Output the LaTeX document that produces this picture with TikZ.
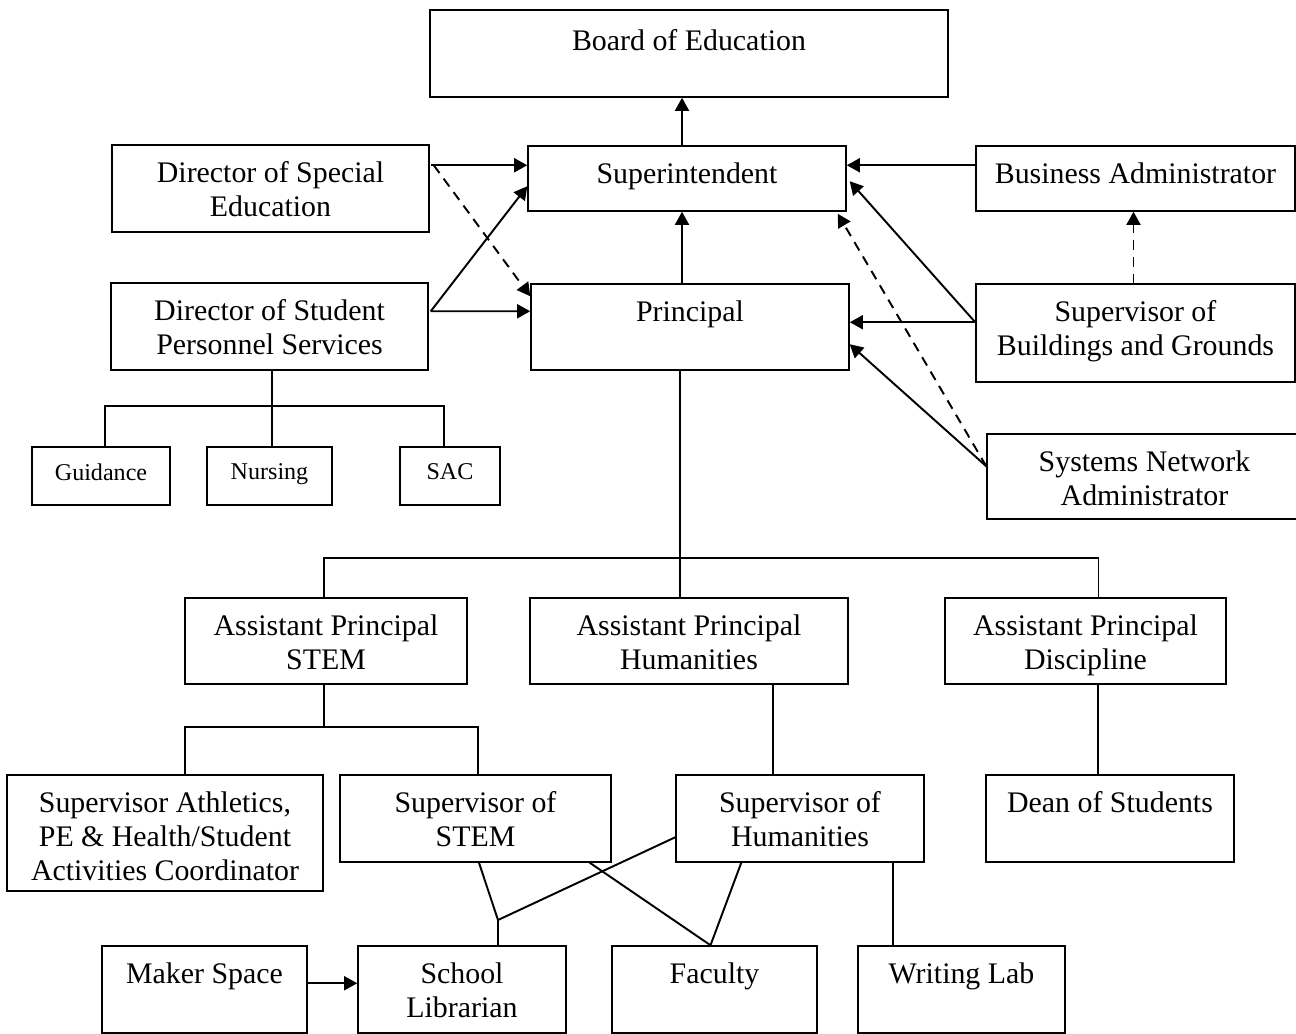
\documentclass[tikz,border=0pt]{standalone}
\usepackage{fontspec}
\setmainfont{Liberation Serif}
\usetikzlibrary{arrows.meta, calc, fit}

\tikzset{
  unit/.style={draw, line width=0.85pt, inner sep=0pt},
  txt/.style={anchor=north, align=center, inner sep=0pt, yshift=-9.6pt, font=\fontsize{17}{19.3}\selectfont},
  small/.style={anchor=north, align=center, inner sep=0pt, yshift=-9.8pt, font=\fontsize{13.7}{16}\selectfont},
  link/.style={line width=1.1pt},
  arr/.style={line width=1.1pt, -{Triangle[length=7.5pt,width=8pt]}},
  dasharr/.style={arr, dash pattern=on 5.5pt off 4pt},
}

\begin{document}
\begin{tikzpicture}[x=0.02cm, y=-0.02cm]
  \fill[white] (0,0) rectangle (1296,1034);
  \useasboundingbox (0,0) rectangle (1296,1034);

  % top of the district
  \node[unit, fit={(430,10) (948,97)}, label={[txt, yshift=-1.7pt]north:Board of Education}] (boe) {};
  \node[unit, fit={(528,146) (846,211)}, label={[txt]north:Superintendent}] (sup) {};
  \node[unit, fit={(976,146) (1295,211)}, label={[txt]north:Business Administrator}] (ba) {};
  \node[unit, fit={(112,145) (429,232)}, label={[txt]north:{Director of Special\\Education}}] (dse) {};
  \node[unit, fit={(531,284) (849,370)}, label={[txt]north:Principal}] (pri) {};
  \node[unit, fit={(111,283) (428,370)}, label={[txt]north:{Director of Student\\Personnel Services}}] (dsps) {};
  \node[unit, fit={(976,284) (1295,382)}, label={[txt]north:{Supervisor of\\Buildings and Grounds}}] (sbg) {};
  \node[unit, fit={(987,434) (1302,519)}, label={[txt]north:{Systems Network\\Administrator}}] (sna) {};

  % student services
  \node[unit, fit={(32,447) (170,505)}, label={[small]north:Guidance}] (gui) {};
  \node[unit, fit={(207,447) (332,505)}, label={[small]north:Nursing}] (nur) {};
  \node[unit, fit={(400,447) (500,505)}, label={[small]north:SAC}] (sac) {};

  % assistant principals
  \node[unit, fit={(185,598) (467,684)}, label={[txt]north:{Assistant Principal\\STEM}}] (aps) {};
  \node[unit, fit={(530,598) (848,684)}, label={[txt]north:{Assistant Principal\\Humanities}}] (aph) {};
  \node[unit, fit={(945,598) (1226,684)}, label={[txt]north:{Assistant Principal\\Discipline}}] (apd) {};

  % supervisors
  \node[unit, fit={(7,775) (323,891)}, label={[txt]north:{Supervisor Athletics,\\PE \& Health/Student\\Activities Coordinator}}] (sath) {};
  \node[unit, fit={(340,775) (611,862)}, label={[txt]north:{Supervisor of\\STEM}}] (sstem) {};
  \node[unit, fit={(676,775) (924,862)}, label={[txt]north:{Supervisor of\\Humanities}}] (shum) {};
  \node[unit, fit={(986,775) (1234,862)}, label={[txt]north:Dean of Students}] (dean) {};

  % bottom row
  \node[unit, fit={(102,946) (307,1033)}, label={[txt]north:Maker Space}] (mak) {};
  \node[unit, fit={(358,946) (566,1033)}, label={[txt]north:{School\\Librarian}}] (lib) {};
  \node[unit, fit={(612,946) (817,1033)}, label={[txt]north:Faculty}] (fac) {};
  \node[unit, fit={(858,946) (1065,1033)}, label={[txt]north:Writing Lab}] (wlab) {};

  % reporting arrows
  \draw[arr] ($(sup.north)+(-5,0)$) coordinate (c1) -- (c1 |- boe.south);
  \draw[arr] ($(pri.north)+(-8,0)$) coordinate (c2) -- (c2 |- sup.south);
  \draw[arr] ($(dse.north east)+(1,21)$) -- ($(sup.north west)+(0,20)$);
  \draw[dasharr] ($(dse.north east)+(4,21)$) -- ($(pri.north west)+(0,13)$);
  \draw[arr] ($(dsps.north east)+(2,29)$) -- ($(sup.north west)+(0,41)$);
  \draw[arr] ($(dsps.north east)+(2,29)$) -- ($(pri.north west)+(0,28)$);
  \draw[arr] ($(ba.north west)+(0,20)$) -- ($(sup.north east)+(0,20)$);
  \draw[arr] ($(sbg.north west)+(0,39)$) -- ($(pri.north east)+(0,39)$);
  \draw[arr] ($(sbg.north west)+(0,39)$) -- ($(sup.north east)+(3,36)$);
  \draw[dasharr] ($(sbg.north)+(-2,0)$) coordinate (c3) -- (c3 |- ba.south);
  \draw[arr] ($(sna.north west)+(0,33)$) -- ($(pri.north east)+(0,61)$);
  \draw[dasharr] ($(sna.north west)+(0,33)$) -- ($(sup.south east)+(-9,2)$);

  % tree lines
  \coordinate (bar1) at (272,406);
  \draw[link] (dsps.south -| bar1) -- (bar1);
  \draw[link] ($(gui.north)+(4,0)$) |- (bar1) -| ($(sac.north)+(-6,0)$);
  \draw[link] (bar1) -- (nur.north -| bar1);

  \coordinate (bar2) at (680,558);
  \draw[link] (pri.south -| bar2) -- (aph.north -| bar2);
  \draw[link] ($(aps.north)+(-2,0)$) |- (bar2) -| ($(apd.north)+(13,0)$);

  \coordinate (bar3) at (324,727);
  \draw[link] (aps.south -| bar3) -- (bar3);
  \draw[link] ($(sath.north)+(20,0)$) |- (bar3) -| ($(sstem.north)+(2.5,0)$);

  \coordinate (v1) at (773,720);
  \coordinate (v2) at (1098,720);
  \draw[link] (aph.south -| v1) -- (shum.north -| v1);
  \draw[link] (apd.south -| v2) -- (dean.north -| v2);

  \draw[arr] ($(mak.north east)+(0,38)$) -- ($(lib.north west)+(0,38)$);

  \coordinate (j1) at (498,920);
  \coordinate (j2) at ($(fac.north)+(-4,0)$);
  \draw[link] ($(sstem.south)+(3.5,0)$) -- (j1) -- (lib.north -| j1);
  \draw[link] ($(shum.north west)+(0,63)$) -- (j1);
  \draw[link] ($(sstem.south east)+(-22,0)$) -- (j2);
  \draw[link] ($(shum.south west)+(66,0)$) -- (j2);
  \draw[link] ($(shum.south west)+(218,0)$) coordinate (c4) -- (c4 |- wlab.north);
\end{tikzpicture}
\end{document}
